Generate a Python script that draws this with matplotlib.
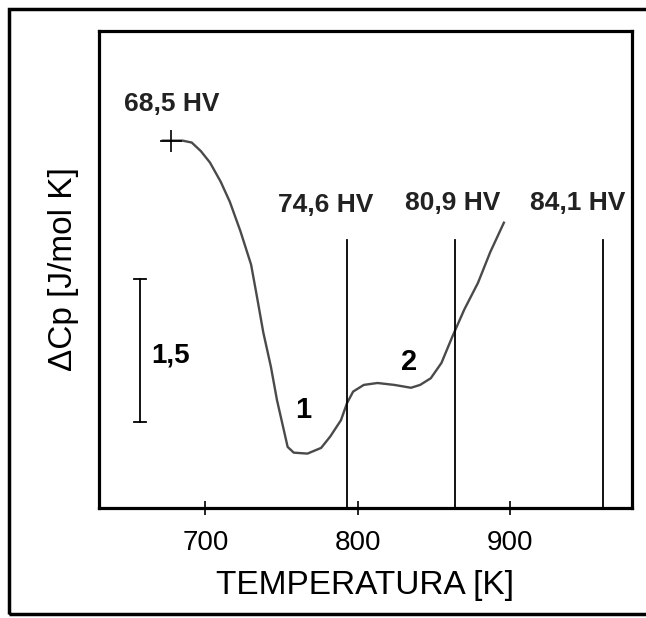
import matplotlib
matplotlib.use("Agg")
import matplotlib.pyplot as plt
from matplotlib.patches import Rectangle

# DSC trace: temperature [K] vs ΔCp (arbitrary zero, J/mol K)
temp = [672, 685, 691, 697, 703, 710, 716, 723, 730, 734, 738, 743, 747, 751,
        754, 758, 767, 776, 782, 789, 793, 797, 804, 813, 824, 835, 841, 848,
        855, 862, 870, 879, 887, 896]
dcp = [3.85, 3.85, 3.83, 3.74, 3.62, 3.42, 3.21, 2.90, 2.55, 2.20, 1.84, 1.48,
       1.13, 0.85, 0.64, 0.58, 0.57, 0.63, 0.75, 0.92, 1.10, 1.22, 1.29, 1.31,
       1.29, 1.26, 1.29, 1.36, 1.52, 1.79, 2.08, 2.36, 2.68, 2.99]

start_mark = (677.6, 3.85)

# hardness measured at the annealing temperatures
hv_temp = [793, 864, 961]
line_top = 2.81
hv_labels = ["68,5 HV", "74,6 HV", "80,9 HV", "84,1 HV"]
hv_label_x = [678, 779, 862.5, 944.7]
hv_label_y = [4.23, 3.18, 3.20, 3.20]

peak_labels = ["1", "2"]
peak_pos = [(764.5, 1.03), (834, 1.53)]

scale_bar = (657, 0.90, 2.40)   # x, bottom, top
scale_text = "1,5"

xticks = [700, 800, 900]

plt.rcParams["font.family"] = ["Liberation Sans", "DejaVu Sans"]

fig = plt.figure(figsize=(6.46, 6.18), dpi=100)
ax = fig.add_axes([0.153, 0.178, 0.825, 0.772])

ax.plot(temp, dcp, color="#4a4a4a", lw=1.7, solid_joinstyle="round")
ax.plot([start_mark[0]], [start_mark[1]], marker="+", color="black",
        ms=16, mew=1.2)

for t in hv_temp:
    ax.plot([t, t], [0, line_top], color="black", lw=1.3)

for x, y, s in zip(hv_label_x, hv_label_y, hv_labels):
    ax.text(x, y, s, ha="center", va="center", fontsize=19,
            fontweight="bold", color="#222222")

for s, (x, y) in zip(peak_labels, peak_pos):
    ax.text(x, y, s, ha="center", va="center", fontsize=21, fontweight="bold")

sx, sy0, sy1 = scale_bar
ax.plot([sx, sx], [sy0, sy1], color="black", lw=1.3)
ax.plot([sx - 4, sx + 4], [sy0, sy0], color="black", lw=1.3)
ax.plot([sx - 4, sx + 4], [sy1, sy1], color="black", lw=1.3)
ax.text(sx + 20, (sy0 + sy1) / 2 - 0.05, scale_text, ha="center", va="center",
        fontsize=20, fontweight="bold")

ax.set_xlim(630, 980)
ax.set_ylim(0, 5)
ax.set_xticks(xticks)
ax.set_yticks([])
ax.tick_params(axis="x", direction="inout", length=10, width=1.2,
               labelsize=20, pad=11)
for sp in ax.spines.values():
    sp.set_linewidth(2.3)

ax.set_xlabel("TEMPERATURA [K]", fontsize=24, labelpad=10)
ax.set_ylabel("ΔCp [J/mol K]", fontsize=24, labelpad=14)

# outer frame round the whole figure
fig.patches.append(Rectangle((9 / 646, 4 / 618), 1.0, 1 - 13 / 618,
                             transform=fig.transFigure, fill=False,
                             lw=2.5, ec="black"))

fig.savefig("out.png", dpi=100)
